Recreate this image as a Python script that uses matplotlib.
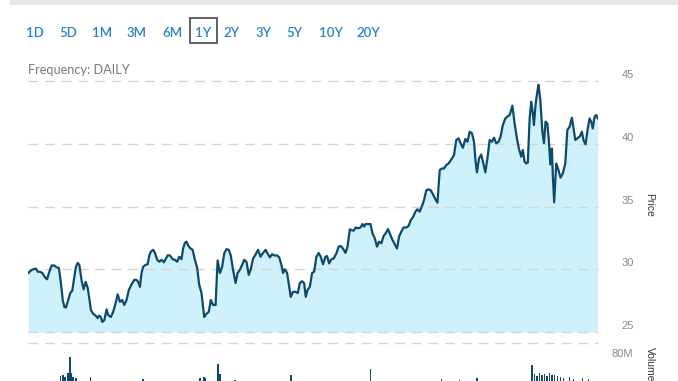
import matplotlib
matplotlib.use("Agg")
import matplotlib.pyplot as plt
from matplotlib.patches import Rectangle
from matplotlib.transforms import ScaledTranslation

plt.rcParams["font.family"] = ["Lato", "DejaVu Sans"]

# ---- data (trading day index, close price) ----
days = [
    0.1, 1.3, 2.3, 3.5, 4.3, 5.3, 6.3, 7.5, 8.4, 9.2, 10.4, 11.6, 12.6, 13.6, 14.5,
    15.3, 16.0, 16.7, 17.7, 18.6, 19.5, 20.4, 21.1, 21.9, 22.6, 23.6, 24.5, 25.4,
    26.3, 27.1, 27.7, 28.7, 29.8, 30.7, 31.2, 32.1, 32.7, 33.6, 34.6, 35.3, 36.5,
    37.5, 38.6, 39.5, 40.5, 41.5, 42.4, 43.4, 44.4, 45.6, 46.8, 47.8, 48.5, 49.3,
    50.0, 50.7, 51.8, 52.7, 53.4, 54.1, 55.1, 55.9, 56.9, 57.8, 58.8, 59.8, 60.6,
    61.5, 62.5, 63.7, 64.7, 65.7, 66.6, 67.6, 68.3, 69.1, 69.8, 70.5, 71.6, 72.5,
    73.5, 74.5, 75.4, 76.4, 77.1, 77.6, 78.6, 79.6, 80.5, 81.5, 82.6, 83.5, 84.5,
    85.5, 86.4, 87.4, 88.4, 89.3, 90.3, 91.4, 92.3, 93.3, 94.3, 95.2, 96.2, 97.2,
    98.1, 99.1, 100.3, 101.3, 102.4, 103.3, 104.6, 105.5, 106.5, 107.5, 108.4,
    109.7, 110.6, 111.6, 112.3, 113.1, 114.1, 115.0, 115.7, 116.7, 117.9, 118.8,
    119.7, 120.7, 121.6, 122.3, 123.1, 124.1, 125.1, 126.0, 127.0, 128.0, 128.9,
    129.9, 131.0, 131.7, 132.6, 133.6, 134.6, 135.8, 136.8, 137.7, 138.7, 139.8,
    140.7, 141.7, 142.7, 143.4, 144.3, 145.3, 146.4, 147.3, 148.0, 148.7, 149.7,
    150.8, 151.7, 152.7, 153.7, 154.6, 155.6, 156.6, 157.5, 158.5, 159.6, 160.5,
    161.5, 162.5, 163.4, 164.4, 165.4, 166.6, 167.6, 168.5, 169.5, 170.6, 171.5,
    172.5, 173.5, 174.4, 175.4, 176.4, 177.3, 178.3, 179.4, 180.3, 181.3, 182.3,
    183.2, 184.2, 185.2, 186.7, 187.6, 188.6, 189.6, 190.5, 191.5, 192.6, 193.5,
    194.5, 195.5, 196.4, 197.1, 197.7, 198.6, 199.6, 200.3, 201.4, 202.3, 203.3,
    204.3, 205.2, 206.2, 207.2, 208.1, 209.1, 210.2, 211.1, 212.1, 213.3, 214.3,
    215.3, 216.2, 217.2, 217.9, 218.7, 219.4, 220.1, 220.9, 221.6, 222.3, 222.8,
    223.5, 224.3, 224.8, 225.6, 226.5, 227.2, 227.9, 228.7, 229.4, 230.0, 230.7,
    231.1, 231.7, 232.6, 233.6, 234.5, 235.5, 236.6, 237.5, 238.5, 239.5, 240.2,
    241.0, 241.9, 242.9, 243.9, 244.6, 245.5, 246.5, 247.3, 248.0, 248.7, 249.5,
    250.2, 250.9,
]
price = [
    29.7, 29.9, 30.0, 30.05, 29.8, 29.8, 29.7, 29.35, 29.2, 29.7, 30.3, 30.3, 30.15,
    30.1, 28.9, 27.55, 27.0, 26.95, 27.55, 28.1, 28.3, 29.4, 30.2, 30.5, 30.35, 29.1,
    28.4, 29.0, 28.5, 27.55, 26.75, 26.45, 26.3, 26.1, 26.3, 26.2, 25.8, 25.95, 26.8,
    26.35, 26.2, 26.6, 27.3, 28.0, 27.4, 27.55, 27.15, 27.55, 28.35, 28.8, 29.15,
    29.15, 29.0, 28.6, 29.7, 30.2, 30.35, 30.4, 31.1, 31.4, 31.55, 31.3, 30.75, 30.6,
    30.75, 30.55, 30.8, 31.1, 31.1, 30.8, 30.75, 30.6, 31.0, 30.8, 31.65, 32.1, 32.2,
    31.9, 31.65, 31.55, 30.75, 30.1, 28.75, 28.1, 27.0, 26.2, 26.45, 26.6, 27.55,
    27.15, 27.15, 30.7, 29.7, 30.2, 31.25, 31.6, 31.55, 31.1, 29.95, 28.9, 29.7,
    29.95, 30.35, 30.75, 30.6, 29.55, 30.0, 30.85, 31.2, 31.55, 31.0, 31.25, 31.55,
    31.25, 30.95, 31.2, 31.1, 31.1, 30.95, 30.35, 29.7, 30.0, 29.7, 28.6, 27.8, 28.2,
    28.2, 28.1, 28.9, 29.05, 28.9, 27.8, 28.35, 28.6, 29.7, 29.8, 31.0, 31.3, 31.0,
    30.4, 31.0, 31.05, 30.47, 30.8, 30.85, 31.27, 31.8, 31.85, 31.65, 31.3, 31.8,
    33.18, 33.1, 33.07, 33.33, 33.26, 33.33, 33.6, 33.4, 33.6, 33.6, 33.6, 32.86,
    32.46, 31.8, 32.2, 32.07, 32.65, 32.86, 33.2, 32.73, 32.33, 32.0, 31.65, 32.6,
    33.0, 33.33, 33.33, 33.45, 33.9, 34.14, 34.59, 34.78, 34.59, 35.04, 35.52, 36.3,
    36.37, 36.3, 35.99, 35.57, 35.3, 37.9, 38.03, 38.03, 38.3, 38.43, 38.83, 39.1,
    40.3, 40.43, 40.03, 39.68, 40.38, 40.16, 40.96, 40.83, 40.16, 38.57, 37.72,
    38.83, 39.14, 38.6, 37.72, 38.83, 40.3, 40.16, 40.48, 40.03, 40.16, 40.56, 41.49,
    42.02, 42.16, 42.29, 43.03, 41.6, 40.43, 39.58, 38.97, 39.5, 38.57, 38.43, 38.5,
    42.02, 43.35, 42.43, 41.49, 43.1, 44.16, 44.7, 43.5, 40.96, 40.03, 41.76, 41.6,
    40.16, 38.35, 39.62, 37.5, 35.33, 38.43, 37.9, 37.3, 37.63, 38.43, 41.1, 41.36,
    42.07, 41.22, 40.3, 40.43, 40.56, 40.96, 40.3, 39.95, 41.22, 42.02, 41.76, 41.22,
    42.16, 42.29, 42.02,
]

# volume bars whose tops are visible above the bottom edge (millions)
vol_days = [
    14.4, 15.3, 16.3, 17.7, 18.5, 19.2, 19.9, 21.1, 27.6, 50.7, 75.7, 77.4, 78.2,
    83.7, 84.5, 91.1, 115.7, 150.8, 182.0, 190.1, 197.6, 221.9, 223.1, 224.2, 225.3,
    226.4, 227.5, 228.6, 229.7, 230.8, 231.9, 233.2, 234.5, 235.8, 238.5, 240.2,
    244.2, 246.8,
]
vol_m = [
    61.2, 62.4, 60.0, 65.0, 83.2, 64.7, 60.4, 58.8, 60.4, 58.0, 58.8, 60.0, 58.8,
    75.3, 63.5, 56.5, 62.4, 69.0, 57.6, 57.0, 58.8, 74.1, 63.5, 61.2, 64.7, 62.4,
    63.5, 61.2, 64.7, 61.8, 62.4, 61.2, 60.0, 58.8, 60.0, 57.6, 58.8, 57.6,
]

ranges = ["1D", "5D", "1M", "3M", "6M", "1Y", "2Y", "3Y", "5Y", "10Y", "20Y"]
range_x = [35, 68, 102, 137, 172, 203.5, 232, 263.5, 294.5, 330.5, 368.5]
selected = "1Y"
price_ticks = [25, 30, 35, 40, 45]

LINE = "#0e4a6b"
FILL = "#cff1fc"
GRID = "#d4d4d4"
BLUE = "#2c80cc"
LABEL = "#8a8a8a"
TICK_FONT = ["Liberation Sans", "DejaVu Sans"]

W, H = 678, 381
fig = plt.figure(figsize=(W / 100, H / 100), dpi=100)


def fx(px):
    return px / W


def fy(py):
    return 1 - py / H


# top grey strip
fig.patches.append(Rectangle((fx(10), fy(5)), 1 - fx(10), 5 / H,
                             transform=fig.transFigure, color="#e6e6e6", lw=0))

# range selector
for lab, x in zip(ranges, range_x):
    fig.text(fx(x), fy(33), lab, color=BLUE, fontsize=9.5, fontweight="semibold",
             ha="center", va="center")
    if lab == selected:
        fig.patches.append(Rectangle((fx(189.5), fy(43)), 27 / W, 25 / H,
                                     transform=fig.transFigure, fill=False,
                                     ec="#555555", lw=1.3))
fig.text(fx(28), fy(69.5), "Frequency: DAILY", color="#7a7a7a", fontsize=9.2,
         ha="left", va="center")

# price panel
ax = fig.add_axes([fx(28), fy(332), 570 / W, 251 / H])
ax.fill_between(days, price, 25, color=FILL, lw=0, zorder=1)
ax.plot(days, price, color=LINE, lw=1.6, zorder=3, solid_joinstyle="round")
for t in price_ticks:
    ax.axhline(t, color=GRID, lw=1, ls=(0, (7, 5)), zorder=2, clip_on=False)
ax.set_xlim(0, 251)
ax.set_ylim(25, 45)
ax.set_xticks([])
ax.set_yticks(price_ticks)
ax.yaxis.tick_right()
ax.tick_params(axis="y", length=0, pad=17, labelsize=8, labelcolor=LABEL)
up = ScaledTranslation(0, 7 / 100, fig.dpi_scale_trans)
for tl in ax.get_yticklabels():
    tl.set_transform(tl.get_transform() + up)
    tl.set_family(TICK_FONT)
for s in ax.spines.values():
    s.set_visible(False)
ax.patch.set_alpha(0)
fig.text(fx(649), fy(205), "Price", rotation=270, fontsize=7.5, color="#333333",
         family=TICK_FONT, ha="center", va="center")

# volume panel (mostly below the visible area)
axv = fig.add_axes([fx(28), fy(428), 570 / W, 85 / H])
axv.bar(vol_days, vol_m, width=0.7, color=LINE, lw=0)
axv.axhline(100, color=GRID, lw=1, ls=(0, (7, 5)), clip_on=False)
axv.set_xlim(0, 251)
axv.set_ylim(0, 100)
axv.set_xticks([])
axv.set_yticks([80])
axv.set_yticklabels(["80M"])
axv.yaxis.tick_right()
axv.tick_params(axis="y", length=0, pad=10, labelsize=8, labelcolor=LABEL)
for tl in axv.get_yticklabels():
    tl.set_transform(tl.get_transform() + up)
    tl.set_family(TICK_FONT)
for s in axv.spines.values():
    s.set_visible(False)
axv.patch.set_alpha(0)
fig.text(fx(650), fy(347), "Volume", rotation=270, fontsize=7.5, color="#333333",
         family=TICK_FONT, ha="center", va="top")

fig.savefig("out.png", dpi=100)
